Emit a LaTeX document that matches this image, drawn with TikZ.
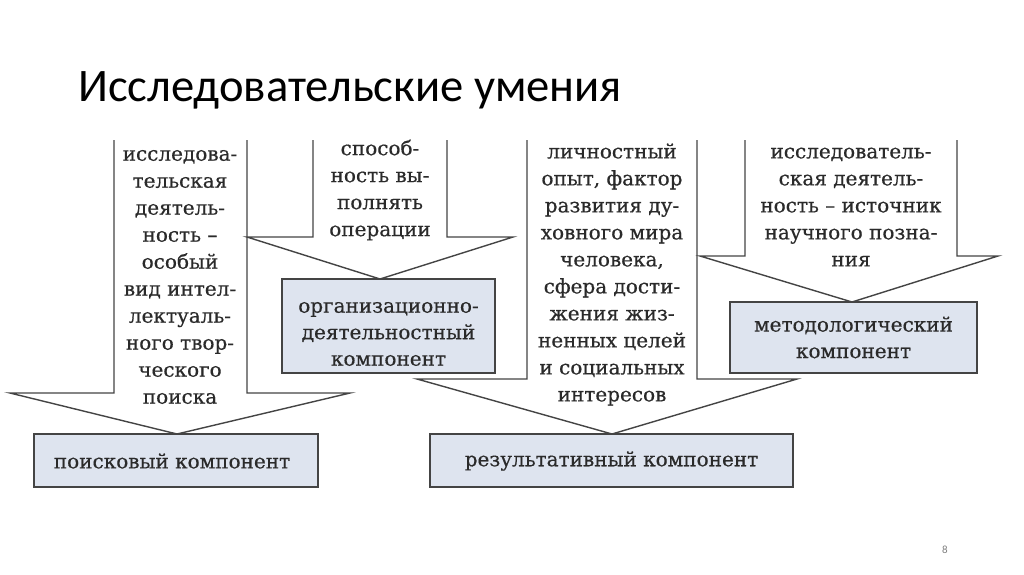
\documentclass[tikz,border=0pt]{standalone}
\usepackage{fontspec}
\setmainfont{DejaVu Serif}
\newfontfamily\diafont{DejaVu Serif}[FakeBold=0.5]
\newfontfamily\titlefont{Carlito}
\definecolor{boxfill}{HTML}{DEE4EF}
\definecolor{linecol}{HTML}{444444}
\definecolor{txtcol}{HTML}{2A2A2A}
\begin{document}
\begin{tikzpicture}[x=1pt,y=-1pt,
  arrowline/.style={draw=linecol,line width=1.4pt,line join=miter},
  compbox/.style={draw=linecol,line width=1.9pt,fill=boxfill},
  boxtext/.style={text=txtcol,font=\diafont\fontsize{20}{26.5}\selectfont,align=center,inner sep=0pt},
  arrtext/.style={text=txtcol,font=\diafont\fontsize{20}{27}\selectfont,align=center,inner sep=0pt}]
\useasboundingbox (0,0) rectangle (1024,574);
\fill[white] (0,0) rectangle (1024,574);
% title
\node[anchor=base west,inner sep=0pt,font=\titlefont\fontsize{46.6}{50}\selectfont] (title) at (78,101) {Исследовательские умения};
% arrows
\draw[arrowline] (114,140) -- (114,393) -- (10,393) -- (177,434) -- (350,393) -- (247,393) -- (247,140);
\draw[arrowline] (313,140) -- (313,237) -- (247,237) -- (380,279) -- (513,237) -- (447,237) -- (447,140);
\draw[arrowline] (527,140) -- (527,379) -- (417,379) -- (612,434) -- (797,379) -- (697,379) -- (697,140);
\draw[arrowline] (745,140) -- (745,256) -- (700,256) -- (852,302) -- (998,256) -- (957,256) -- (957,140);
% boxes
\draw[compbox] (34,434) rectangle (318,487);
\draw[compbox] (282,279) rectangle (495,373);
\draw[compbox] (430,434) rectangle (793,487);
\draw[compbox] (730,302) rectangle (977,373);
\node[boxtext] (b1) at (172,461) {поисковый компонент};
\node[boxtext] (b2) at (388.5,334) {организационно-\\деятельностный\\компонент};
\node[boxtext] (b3) at (611.5,461) {результативный компонент};
\node[boxtext] (b4) at (853.5,337.5) {методологический\\компонент};
% arrow texts
\node[arrtext] (t1) at (180,277) {исследова-\\тельская\\деятель-\\ность –\\особый\\вид интел-\\лектуаль-\\ного твор-\\ческого\\поиска};
\node[arrtext] (t2) at (380,190) {способ-\\ность вы-\\полнять\\операции};
\node[arrtext] (t3) at (612,274.5) {личностный\\опыт, фактор\\развития ду-\\ховного мира\\человека,\\сфера дости-\\жения жиз-\\ненных целей\\и социальных\\интересов};
\node[arrtext] (t4) at (851,207) {исследователь-\\ская деятель-\\ность – источник\\научного позна-\\ния};
% page number
\node[font=\titlefont\fontsize{11}{12}\selectfont,text=gray,inner sep=0pt] (pg) at (945,550) {8};
\end{tikzpicture}
\end{document}
